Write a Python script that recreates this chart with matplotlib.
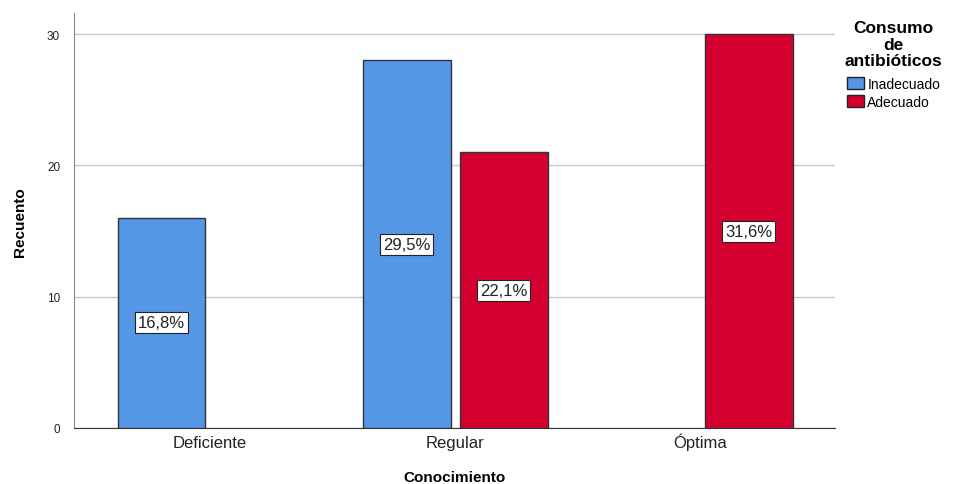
import matplotlib.pyplot as plt
from matplotlib.patches import Patch
import numpy as np

plt.rcParams['font.family'] = ['Liberation Sans', 'DejaVu Sans']

categories = ["Deficiente", "Regular", "Óptima"]
inadecuado = [16, 28, 0]
adecuado = [0, 21, 30]
total = sum(inadecuado) + sum(adecuado)

blue = "#5596E6"
red = "#D3002F"

fig = plt.figure(figsize=(9.66, 4.85), dpi=100)
ax = fig.add_axes([74 / 966, 1 - 429 / 485, (835 - 74) / 966, (429 - 14) / 485])

x = np.arange(len(categories))
width = 0.359
offset = 0.198

bars_a = ax.bar(x - offset, inadecuado, width, color=blue, edgecolor="#333333", linewidth=1, zorder=3)
bars_b = ax.bar(x + offset, adecuado, width, color=red, edgecolor="#333333", linewidth=1, zorder=3)

for bars, vals in [(bars_a, inadecuado), (bars_b, adecuado)]:
    for b, v in zip(bars, vals):
        if v == 0:
            b.set_visible(False)
            continue
        pct = f"{v / total * 100:.1f}%".replace(".", ",")
        ax.text(b.get_x() + b.get_width() / 2, v / 2, pct, ha="center", va="center", fontsize=12,
                color="#222222", zorder=4,
                bbox=dict(boxstyle="square,pad=0.18", facecolor="white", edgecolor="#222222", linewidth=0.8))

ax.set_xlim(-0.555, 2.55)
ax.set_ylim(0, 31.6)
ax.set_yticks([0, 10, 20, 30])
ax.set_xticks(x)
ax.set_xticklabels(categories, fontsize=12, color="#222222", va="baseline")
ax.tick_params(axis="y", length=0, labelsize=8.5, colors="#222222", pad=10)
ax.tick_params(axis="x", length=0, pad=14)
ax.yaxis.grid(True, color="#c8c8c8", linewidth=1, zorder=0)
ax.set_axisbelow(True)

for s in ["top", "right"]:
    ax.spines[s].set_visible(False)
ax.spines["left"].set_color("#888888")
ax.spines["bottom"].set_color("#333333")

fig.text((74 + 835) / 2 / 966, 1 - 478 / 485, "Conocimiento", ha="center", va="center",
         fontsize=11, fontweight="bold")
fig.text(20 / 966, 1 - 222 / 485, "Recuento", ha="center", va="center", rotation=90,
         fontsize=11, fontweight="bold")

handles = [Patch(facecolor=blue, edgecolor="#222222"), Patch(facecolor=red, edgecolor="#222222")]
leg = fig.legend(handles=handles, labels=["Inadecuado", "Adecuado"],
                 title="Consumo\nde\nantibióticos", loc="upper left",
                 bbox_to_anchor=(842 / 966, 1 - 18 / 485), frameon=False, fontsize=10,
                 handlelength=1.2, handleheight=1.0, handletextpad=0.25, labelspacing=0.3,
                 borderpad=0.2, borderaxespad=0)
leg.get_title().set_fontweight("bold")
leg.get_title().set_fontsize(12.5)
leg.get_title().set_multialignment("center")
leg.get_title().set_linespacing(1.15)
leg._legend_box.sep = 6

fig.savefig("out.png", dpi=100)
